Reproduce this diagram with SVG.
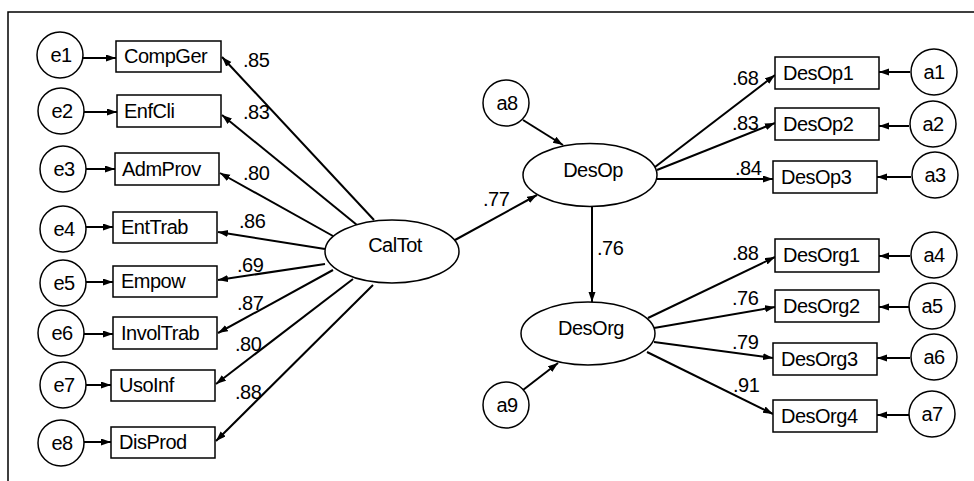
<svg xmlns="http://www.w3.org/2000/svg" width="974" height="481" viewBox="0 0 974 481">
<defs>
<marker id="ah" markerUnits="userSpaceOnUse" markerWidth="11" markerHeight="8" refX="10" refY="3.5" orient="auto">
<path d="M0,0 L10,3.5 L0,7 z" fill="#000"/>
</marker>
<style>
.n rect,.n circle,.n ellipse{fill:#fff;stroke:#000;stroke-width:1.5}
text{font-family:"Liberation Sans",Arial,sans-serif;font-size:20px;letter-spacing:-0.5px;fill:#000}
.c{text-anchor:middle}
#connectors line{stroke:#000;stroke-width:2;marker-end:url(#ah)}
</style>
</defs>
<rect x="0" y="0" width="974" height="481" fill="#fff"/>
<path d="M8,481 L8,12 L974,12" fill="none" stroke="#000" stroke-width="1.5"/>
<g id="connectors">
<line x1="83" y1="58" x2="116" y2="58"/>
<line x1="84" y1="112" x2="117" y2="112"/>
<line x1="86" y1="169" x2="115" y2="169"/>
<line x1="86" y1="227" x2="113" y2="227"/>
<line x1="86" y1="282" x2="113" y2="282"/>
<line x1="84" y1="334" x2="113" y2="334"/>
<line x1="86" y1="385" x2="111" y2="385"/>
<line x1="84" y1="442" x2="111" y2="442"/>
<line x1="374" y1="220" x2="222" y2="57"/>
<line x1="357" y1="225" x2="222" y2="115"/>
<line x1="333" y1="236" x2="220" y2="173"/>
<line x1="325" y1="249" x2="218" y2="232"/>
<line x1="325" y1="264" x2="218" y2="280"/>
<line x1="333" y1="270" x2="218" y2="333"/>
<line x1="353" y1="279" x2="216" y2="384"/>
<line x1="373" y1="285" x2="216" y2="441"/>
<line x1="455" y1="240" x2="537" y2="195"/>
<line x1="523" y1="120" x2="563" y2="145"/>
<line x1="523" y1="390" x2="558" y2="363"/>
<line x1="592" y1="206" x2="592" y2="302"/>
<line x1="655" y1="167" x2="775" y2="75"/>
<line x1="657" y1="170" x2="775" y2="123"/>
<line x1="657" y1="179" x2="773" y2="179"/>
<line x1="648" y1="318" x2="775" y2="257"/>
<line x1="654" y1="328" x2="775" y2="307"/>
<line x1="654" y1="342" x2="773" y2="358"/>
<line x1="647" y1="352" x2="773" y2="414"/>
<line x1="910" y1="72" x2="879" y2="72"/>
<line x1="909" y1="126" x2="879" y2="126"/>
<line x1="911" y1="177" x2="877" y2="177"/>
<line x1="910" y1="256" x2="879" y2="256"/>
<line x1="909" y1="307" x2="879" y2="307"/>
<line x1="910" y1="358" x2="877" y2="358"/>
<line x1="909" y1="415" x2="877" y2="415"/>
</g>
<g id="labels">
<text x="243" y="67">.85</text>
<text x="243" y="119">.83</text>
<text x="243" y="180">.80</text>
<text x="239" y="228">.86</text>
<text x="237" y="272">.69</text>
<text x="237" y="310">.87</text>
<text x="235" y="351">.80</text>
<text x="235" y="399">.88</text>
<text x="483" y="206">.77</text>
<text x="597" y="255">.76</text>
<text x="732" y="85">.68</text>
<text x="732" y="130">.83</text>
<text x="735" y="175">.84</text>
<text x="732" y="260">.88</text>
<text x="732" y="305">.76</text>
<text x="732" y="349">.79</text>
<text x="733" y="392">.91</text>
</g>
<g id="e1" class="n"><circle cx="60" cy="55" r="23"/><text class="c" x="61" y="62">e1</text></g>
<g id="e2" class="n"><circle cx="61" cy="111" r="23"/><text class="c" x="62" y="118">e2</text></g>
<g id="e3" class="n"><circle cx="63" cy="169" r="23"/><text class="c" x="64" y="176">e3</text></g>
<g id="e4" class="n"><circle cx="63" cy="229" r="23"/><text class="c" x="64" y="236">e4</text></g>
<g id="e5" class="n"><circle cx="63" cy="283" r="23"/><text class="c" x="64" y="290">e5</text></g>
<g id="e6" class="n"><circle cx="61" cy="333" r="23"/><text class="c" x="62" y="340">e6</text></g>
<g id="e7" class="n"><circle cx="63" cy="385" r="23"/><text class="c" x="64" y="392">e7</text></g>
<g id="e8" class="n"><circle cx="61" cy="443" r="23"/><text class="c" x="62" y="450">e8</text></g>
<g id="CompGer" class="n"><rect x="116" y="41" width="105" height="31"/><text x="124" y="63">CompGer</text></g>
<g id="EnfCli" class="n"><rect x="117" y="95" width="104" height="32"/><text x="124" y="118">EnfCli</text></g>
<g id="AdmProv" class="n"><rect x="115" y="153" width="104" height="32"/><text x="122" y="176">AdmProv</text></g>
<g id="EntTrab" class="n"><rect x="113" y="212" width="104" height="31"/><text x="121" y="234">EntTrab</text></g>
<g id="Empow" class="n"><rect x="113" y="266" width="104" height="31"/><text x="121" y="288">Empow</text></g>
<g id="InvolTrab" class="n"><rect x="113" y="317" width="104" height="32"/><text x="121" y="340">InvolTrab</text></g>
<g id="UsoInf" class="n"><rect x="111" y="370" width="104" height="31"/><text x="119" y="392">UsoInf</text></g>
<g id="DisProd" class="n"><rect x="111" y="427" width="104" height="31"/><text x="119" y="449">DisProd</text></g>
<g id="CalTot" class="n"><ellipse cx="392" cy="251.5" rx="67" ry="31.5"/><text class="c" x="395" y="252">CalTot</text></g>
<g id="DesOp" class="n"><ellipse cx="590" cy="175" rx="67" ry="31.5"/><text class="c" x="593" y="177">DesOp</text></g>
<g id="DesOrg" class="n"><ellipse cx="588" cy="333.5" rx="67" ry="31.5"/><text class="c" x="591" y="335">DesOrg</text></g>
<g id="a8" class="n"><circle cx="506" cy="103" r="23"/><text class="c" x="507" y="110">a8</text></g>
<g id="a9" class="n"><circle cx="506" cy="405" r="23"/><text class="c" x="507" y="412">a9</text></g>
<g id="DesOp1" class="n"><rect x="775" y="57" width="104" height="32"/><text x="783" y="80">DesOp1</text></g>
<g id="DesOp2" class="n"><rect x="775" y="108" width="104" height="32"/><text x="783" y="131">DesOp2</text></g>
<g id="DesOp3" class="n"><rect x="773" y="161" width="104" height="32"/><text x="781" y="184">DesOp3</text></g>
<g id="DesOrg1" class="n"><rect x="775" y="239" width="104" height="33"/><text x="783" y="262">DesOrg1</text></g>
<g id="DesOrg2" class="n"><rect x="775" y="290" width="104" height="32"/><text x="783" y="313">DesOrg2</text></g>
<g id="DesOrg3" class="n"><rect x="773" y="343" width="104" height="32"/><text x="781" y="366">DesOrg3</text></g>
<g id="DesOrg4" class="n"><rect x="773" y="400" width="104" height="32"/><text x="781" y="423">DesOrg4</text></g>
<g id="a1" class="n"><circle cx="934" cy="72" r="23"/><text class="c" x="934" y="79">a1</text></g>
<g id="a2" class="n"><circle cx="933" cy="124" r="23"/><text class="c" x="933" y="131">a2</text></g>
<g id="a3" class="n"><circle cx="935" cy="175" r="23"/><text class="c" x="935" y="182">a3</text></g>
<g id="a4" class="n"><circle cx="934" cy="255" r="23"/><text class="c" x="934" y="262">a4</text></g>
<g id="a5" class="n"><circle cx="932" cy="306" r="23"/><text class="c" x="932" y="313">a5</text></g>
<g id="a6" class="n"><circle cx="934" cy="357" r="23"/><text class="c" x="934" y="364">a6</text></g>
<g id="a7" class="n"><circle cx="932" cy="414" r="23"/><text class="c" x="932" y="421">a7</text></g>
</svg>
